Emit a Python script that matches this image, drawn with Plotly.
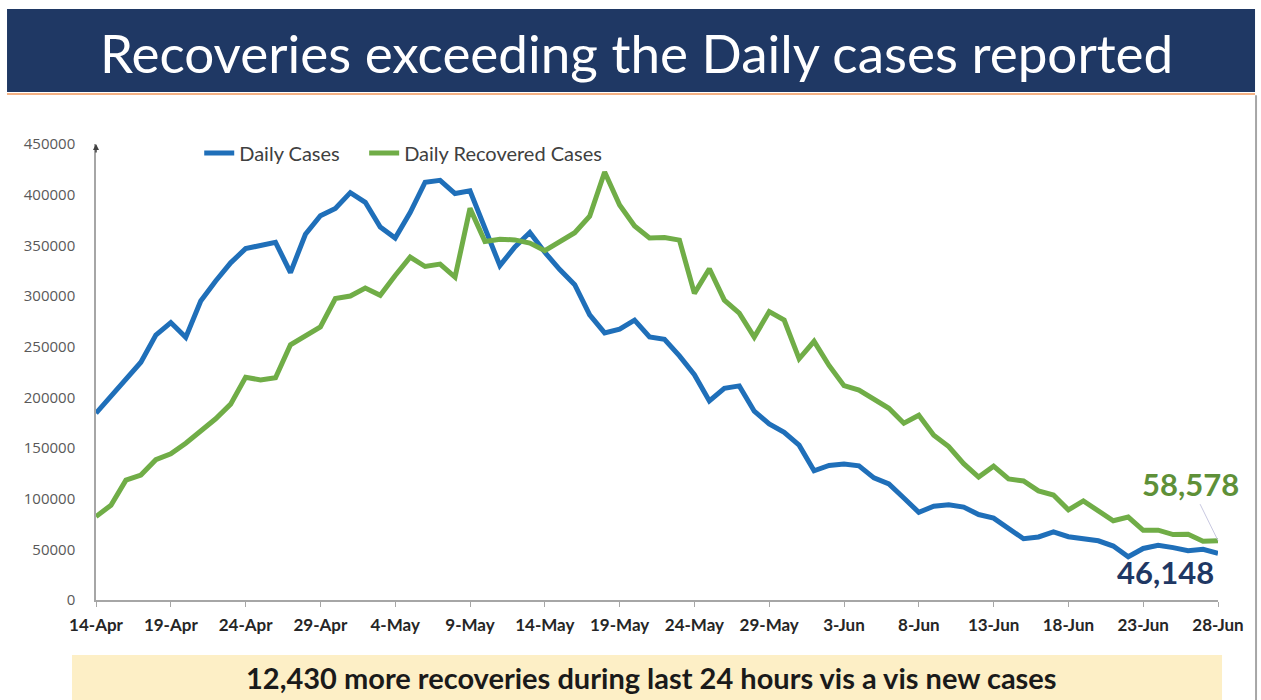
import plotly.graph_objects as go
import pandas as pd

dates = pd.date_range("2021-04-14", "2021-06-28", freq="D")

daily_cases = [
    184372, 200739, 217353, 234692, 261500, 273810, 259170, 295041, 314835, 332730,
    346786, 349691, 352991, 323144, 360960, 379257, 386452, 401993, 392488, 368147,
    357229, 382315, 412262, 414188, 401078, 403738, 366161, 329942, 348421, 362727,
    343144, 326098, 311170, 281386, 263533, 267334, 276110, 259551, 257299, 240842,
    222315, 196427, 208921, 211298, 186364, 173790, 165553, 152734, 127510, 132788,
    134154, 132364, 120529, 114460, 100636, 86498, 92596, 94052, 91702, 84332,
    80834, 70421, 60471, 62224, 67208, 62480, 60753, 58419, 53256, 42640,
    50848, 54069, 51667, 48698, 50040, 46148,
]

daily_recovered = [
    82339, 93528, 118302, 123354, 138423, 144178, 154761, 167457, 178841, 193279,
    219838, 217113, 219272, 251827, 261162, 269507, 297540, 299988, 307865, 300732,
    320289, 338439, 329113, 331507, 318609, 386444, 353818, 356082, 355338, 352181,
    344776, 353299, 362437, 378741, 422436, 389851, 369077, 357295, 357630, 355102,
    302544, 326850, 295955, 283135, 259459, 284601, 276309, 238022, 255287, 231456,
    211499, 207071, 197894, 189232, 174399, 182282, 162664, 151367, 134580, 121311,
    132062, 119501, 117525, 107628, 103570, 88977, 97743, 87619, 78190, 81839,
    68817, 68885, 64527, 64818, 57944, 58578,
]

y_ticks = list(range(0, 450001, 50000))
title_text = "Recoveries exceeding the Daily cases reported"
footer_text = "12,430 more recoveries during last 24 hours vis a vis new cases"

BLUE = "#1F6FB9"
GREEN = "#70AD47"
NAVY = "#1F3864"

fig = go.Figure()
fig.add_trace(go.Scatter(x=dates, y=daily_cases, mode="lines", name="Daily Cases",
                         line=dict(color=BLUE, width=5), legend="legend"))
fig.add_trace(go.Scatter(x=dates, y=daily_recovered, mode="lines", name="Daily Recovered Cases",
                         line=dict(color=GREEN, width=5), legend="legend2"))

legend_style = dict(orientation="h", y=0.98, xanchor="left", yanchor="middle",
                    font=dict(size=20, color="#404040"), bgcolor="rgba(0,0,0,0)",
                    itemwidth=30)

fig.update_layout(
    width=1261, height=700,
    margin=dict(l=96, r=43, t=144, b=100),
    paper_bgcolor="white", plot_bgcolor="white",
    font=dict(family="Lato, sans-serif"),
    showlegend=True,
    legend=dict(x=0.092, **legend_style),
    legend2=dict(x=0.239, **legend_style),
    xaxis=dict(
        type="date",
        range=[dates[0], dates[-1]],
        tick0=dates[0], dtick=5 * 86400000,
        tickformat="%-d-%b",
        showgrid=False, zeroline=False,
        showline=True, linecolor="#A6A6A6", linewidth=1.5,
        ticks="outside", ticklen=5, tickcolor="#A6A6A6",
        tickfont=dict(size=17, color="#262626", family="Lato", weight="bold"),
        ticklabelstandoff=4,
    ),
    yaxis=dict(
        range=[0, 450000],
        tickvals=y_ticks, ticktext=[str(v) for v in y_ticks],
        showgrid=False, zeroline=False,
        showline=True, linecolor="#A6A6A6", linewidth=1.5,
        ticks="",
        tickfont=dict(size=15, color="#595959", family="Open Sans"),
        ticklabelstandoff=16,
    ),
)

shapes = [
    # title banner
    dict(type="rect", xref="paper", yref="paper", x0=-0.0793, x1=1.033, y0=1.114, y1=1.296,
         fillcolor=NAVY, line=dict(width=0), layer="below"),
    # orange separator
    dict(type="line", xref="paper", yref="paper", x0=-0.0793, x1=1.033, y0=1.1096, y1=1.1096,
         line=dict(color="#F4B183", width=2)),
    # right border
    dict(type="line", xref="paper", yref="paper", x0=1.0339, x1=1.0339, y0=1.107, y1=-0.22,
         line=dict(color="#A6A6A6", width=2)),
    # footer box
    dict(type="rect", xref="paper", yref="paper", x0=-0.0214, x1=1.0036, y0=-0.2193, y1=-0.1206,
         fillcolor="#FDEFC6", line=dict(width=0), layer="below"),
]
fig.update_layout(shapes=shapes)

annotations = [
    dict(xref="paper", yref="paper", x=0.4815, y=1.2, text=title_text, showarrow=False,
         font=dict(size=53, color="white", family="Lato"), xanchor="center", yanchor="middle"),
    dict(xref="paper", yref="paper", x=0.4955, y=-0.171, text=footer_text, showarrow=False,
         font=dict(size=29, color="#1a1a1a", family="Lato", weight="bold"),
         xanchor="center", yanchor="middle"),
    # arrow tip on y axis
    dict(xref="paper", yref="paper", x=0, y=1.0, text="", showarrow=True, ax=0, ay=10,
         arrowhead=2, arrowsize=0.8, arrowwidth=1.5, arrowcolor="#404040"),
    dict(x=dates[-1], y=daily_recovered[-1], text=f"{daily_recovered[-1]:,}", showarrow=True,
         ax=-28, ay=-57, arrowhead=0, arrowwidth=1, arrowcolor="#C8C8E0",
         font=dict(size=31, color="#5E9038", family="Lato", weight="bold")),
    dict(x=dates[-1], y=daily_cases[-1], text=f"{daily_cases[-1]:,}", showarrow=False,
         xanchor="right", yanchor="middle", yshift=-19, xshift=-2,
         font=dict(size=31, color=NAVY, family="Lato", weight="bold")),
]
fig.update_layout(annotations=annotations)

fig.write_html("out.html", config={"displayModeBar": False},
               post_script="document.body.style.margin='0';")
